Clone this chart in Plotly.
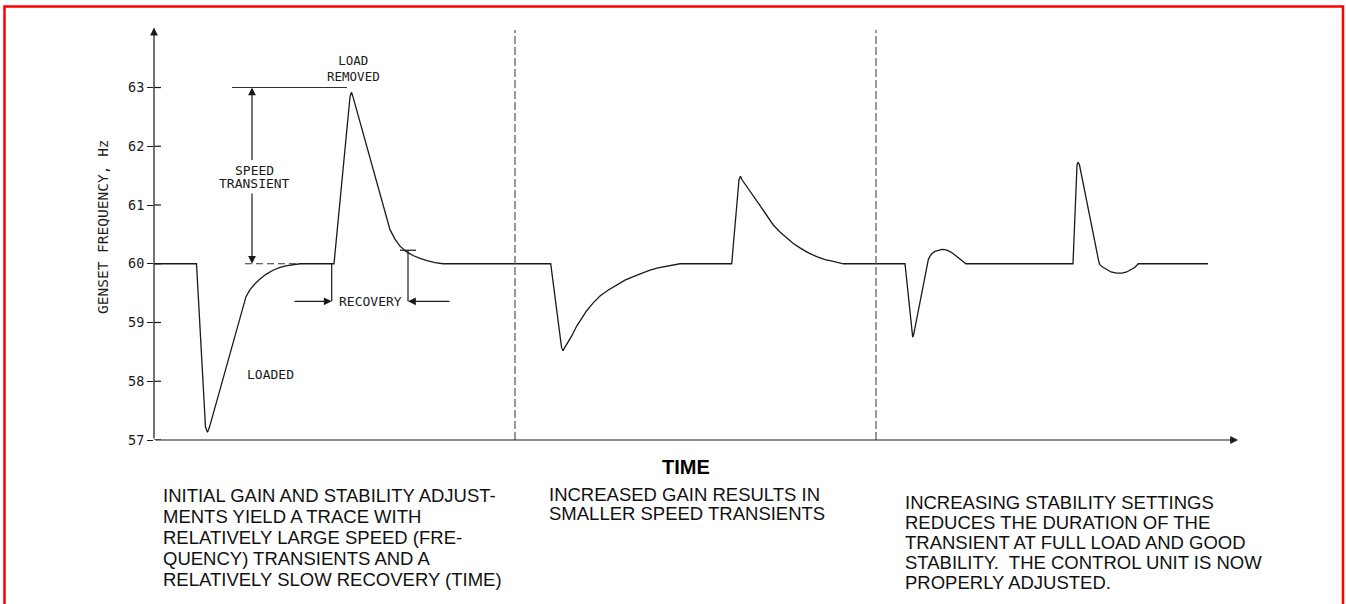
import plotly.graph_objects as go

# ---------------- data (time in arbitrary units, frequency in Hz) ----------------
time = [0, 42.5, 51.5, 53.5, 55.5, 88.7, 92, 96, 101, 106, 112, 119, 126, 133, 140, 146,
        180, 196, 197.5, 199, 236, 241, 246, 252, 259, 266, 273, 281, 289,
        396.7, 407.5, 409, 411, 414, 418, 422.7, 427, 432.7, 439, 446, 454, 462.7, 471,
        479.3, 488, 496, 504, 512.7, 519, 526,
        577.7, 585, 586.5, 588, 604, 619.3, 626, 632.7, 639, 646, 654, 662.7, 671, 679.3, 689.3,
        751, 758, 758.7, 759.7, 774.3, 776, 777.7, 781, 784.3, 788, 791, 794, 797.7, 802, 806,
        809, 812,
        919, 923, 924, 925.5, 945, 946, 949, 952.7, 957, 962.7, 968, 972.7, 977, 981, 984.3,
        1054]
freq = [60, 60, 57.22, 57.13, 57.22, 59.28, 59.44, 59.56, 59.66, 59.74, 59.82, 59.89, 59.94,
        59.97, 59.99, 60,
        60, 62.84, 62.92, 62.84, 60.58, 60.42, 60.30, 60.21, 60.14, 60.09, 60.055, 60.02, 60,
        60, 58.58, 58.52, 58.58, 58.66, 58.78, 58.94, 59.06, 59.2, 59.33, 59.45, 59.55, 59.64,
        59.72, 59.78, 59.84, 59.89, 59.93, 59.96, 59.985, 60,
        60, 61.43, 61.49, 61.43, 61.04, 60.66, 60.54, 60.44, 60.35, 60.27, 60.19, 60.12, 60.07,
        60.04, 60,
        60, 58.8, 58.75, 58.8, 60.07, 60.13, 60.17, 60.21, 60.23, 60.245, 60.24, 60.225, 60.19,
        60.14, 60.08, 60.04, 60,
        60, 61.68, 61.73, 61.68, 60.02, 59.98, 59.94, 59.9, 59.86, 59.84, 59.84, 59.86, 59.9,
        59.94, 60,
        60]

y_ticks = [57, 58, 59, 60, 61, 62, 63]
y_tick_labels = ["57", "58", "59", "60", "61", "62", "63"]
section_breaks = [361, 722]          # dashed separators between the three traces

nominal = 60
peak_first = 63
speed_arrow_t = 98
recovery_start_t = 177.7
recovery_end_t = 254
recovery_end_f = 60.23
recovery_level = 59.36

left_text = ["INITIAL GAIN AND STABILITY ADJUST-",
             "MENTS YIELD A TRACE WITH",
             "RELATIVELY LARGE SPEED (FRE-",
             "QUENCY) TRANSIENTS AND A",
             "RELATIVELY SLOW RECOVERY (TIME)"]
middle_text = ["INCREASED GAIN RESULTS IN",
               "SMALLER SPEED TRANSIENTS"]
right_text = ["INCREASING STABILITY SETTINGS",
              "REDUCES THE DURATION OF THE",
              "TRANSIENT AT FULL LOAD AND GOOD",
              "STABILITY.\u00a0 THE CONTROL UNIT IS NOW",
              "PROPERLY ADJUSTED."]

# ---------------- layout geometry ----------------
W, H = 1346, 604
ML, MR, MT, MB = 154, 106, 27, 164
PW, PH = W - ML - MR, H - MT - MB
X_RANGE = [0, PW]
Y_RANGE = [57, 64.03]


def px_x(px):
    return (px - ML) / PW


def px_y(py):
    return (H - MB - py) / PH


CAD = "DejaVu Sans Mono"
SANS = "Liberation Sans, Arial, sans-serif"
INK = "#1a1a1a"

fig = go.Figure()
fig.add_trace(go.Scatter(x=time, y=freq, mode="lines",
                         line=dict(color=INK, width=1.3), hoverinfo="skip",
                         showlegend=False))

shapes = []
# dashed section separators
for b in section_breaks:
    shapes.append(dict(type="line", xref="x", yref="y", x0=b, x1=b, y0=57, y1=63.98,
                       line=dict(color="#555", width=1.2, dash="8px,3px")))
# inner half of the y ticks (ticks cross the axis)
for v in y_ticks:
    shapes.append(dict(type="line", xref="x", yref="y", x0=0, x1=7, y0=v, y1=v,
                       line=dict(color=INK, width=1.2)))
# speed-transient reference line at 63 Hz
shapes.append(dict(type="line", xref="x", yref="y", x0=78, x1=193, y0=peak_first, y1=peak_first,
                   line=dict(color="#333", width=1.2)))
# dashed 60 Hz reference
shapes.append(dict(type="line", xref="x", yref="y", x0=91, x1=146, y0=nominal, y1=nominal,
                   line=dict(color="#333", width=1.2, dash="7px,4px")))
# recovery extension lines
shapes.append(dict(type="line", xref="x", yref="y", x0=recovery_start_t, x1=recovery_start_t,
                   y0=nominal, y1=recovery_level, line=dict(color=INK, width=1.2)))
shapes.append(dict(type="line", xref="x", yref="y", x0=recovery_end_t, x1=recovery_end_t,
                   y0=recovery_end_f, y1=recovery_level, line=dict(color=INK, width=1.2)))
shapes.append(dict(type="line", xref="x", yref="y", x0=recovery_end_t - 8, x1=recovery_end_t + 8,
                   y0=recovery_end_f, y1=recovery_end_f, line=dict(color=INK, width=1.2)))
# red frame
shapes.append(dict(type="rect", xref="paper", yref="paper",
                   x0=px_x(4.5), x1=px_x(1343), y0=px_y(640), y1=px_y(6.5),
                   line=dict(color="#ff0000", width=2.5)))

ann = []


def arrow(x, y, ax, ay):
    ann.append(dict(x=x, y=y, ax=ax, ay=ay, xref="x", yref="y", axref="x", ayref="y",
                    text="", showarrow=True, arrowhead=2, arrowsize=1.3, arrowwidth=1.2,
                    arrowcolor=INK, standoff=0, startstandoff=0))


# axes drawn as arrows
arrow(0, 64.02, 0, 57)
arrow(1084, 57, 0, 57)
# speed transient double arrow (broken by its label)
arrow(speed_arrow_t, peak_first, speed_arrow_t, 61.74)
arrow(speed_arrow_t, nominal, speed_arrow_t, 61.22)
# recovery arrows
arrow(recovery_start_t, recovery_level, 139, recovery_level)
arrow(recovery_end_t, recovery_level, 297, recovery_level)


def label(text, x, y, size=13, font=CAD, xanchor="center", xref="x", yref="y", **kw):
    ann.append(dict(text=text, x=x, y=y, xref=xref, yref=yref, showarrow=False,
                    xanchor=xanchor, yanchor="middle",
                    font=dict(family=font, size=size, color=INK), **kw))


label("SPEED", 100, 61.59)
label("TRANSIENT", 100, 61.37)
label("LOAD<br>REMOVED", 199, 63.33, size=12.5)
label("RECOVERY", 216, recovery_level)
label("LOADED", 116, 58.12)

# y-axis title
ann.append(dict(text="GENSET FREQUENCY, Hz", x=px_x(103), y=px_y(227), xref="paper", yref="paper",
                showarrow=False, textangle=-90, xanchor="center", yanchor="middle",
                font=dict(family=CAD, size=14.5, color=INK)))

# x-axis title
ann.append(dict(text="<b>TIME</b>", x=px_x(686), y=px_y(467), xref="paper", yref="paper",
                showarrow=False, xanchor="center", yanchor="middle",
                font=dict(family=SANS, size=20, color="#000")))


def paragraph(lines, left_px, top_px, step):
    for i, line in enumerate(lines):
        ann.append(dict(text=line, x=px_x(left_px), y=px_y(top_px + i * step),
                        xref="paper", yref="paper", showarrow=False,
                        xanchor="left", yanchor="middle",
                        font=dict(family=SANS, size=18.5, color="#111")))


paragraph(left_text, 161, 495, 21)
paragraph(middle_text, 547, 494, 19.5)
paragraph(right_text, 903, 502, 20)

fig.update_layout(
    width=W, height=H, autosize=False,
    margin=dict(l=ML, r=MR, t=MT, b=MB, pad=0),
    paper_bgcolor="white", plot_bgcolor="white",
    showlegend=False,
    shapes=shapes, annotations=ann,
    xaxis=dict(range=X_RANGE, showgrid=False, zeroline=False, showline=False,
               showticklabels=False, ticks="", fixedrange=True),
    yaxis=dict(range=Y_RANGE, showgrid=False, zeroline=False, showline=False,
               tickmode="array", tickvals=y_ticks, ticktext=y_tick_labels,
               ticks="outside", ticklen=6, tickwidth=1.2, tickcolor=INK,
               tickfont=dict(family=CAD, size=13.5, color=INK), fixedrange=True),
)

fig.write_html("out.html", include_plotlyjs=True, config={"displayModeBar": False},
               post_script="document.body.style.margin='0px';")
